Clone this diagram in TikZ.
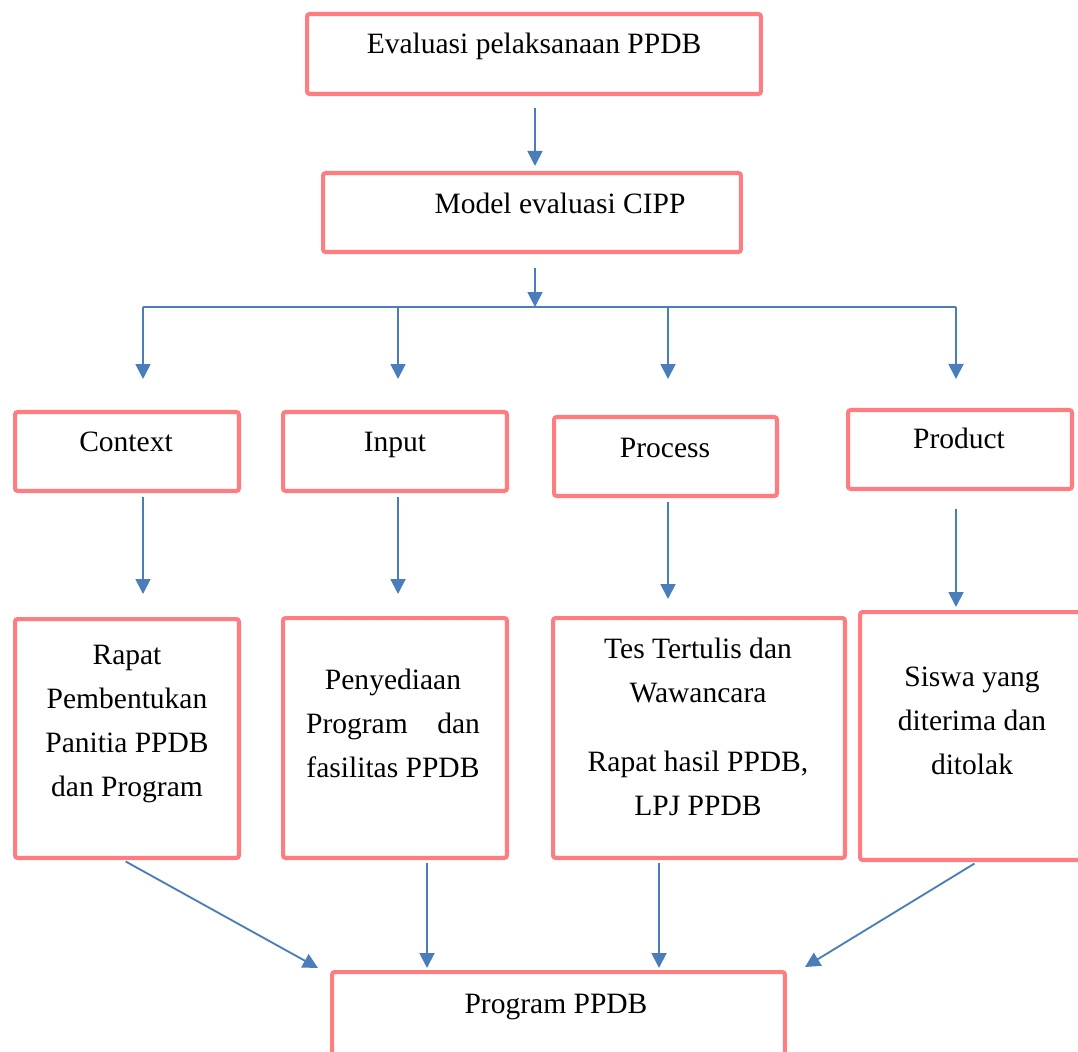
\documentclass[tikz,border=0pt]{standalone}
\usepackage{fontspec}
\setmainfont{Liberation Serif}
\usetikzlibrary{positioning,calc,arrows.meta}
\definecolor{pinkb}{HTML}{FF7C80}
\definecolor{arrblue}{HTML}{4A7EBB}
\tikzset{
  every node/.append style={font=\fontsize{16.8}{25}\selectfont},
  box/.style={draw=pinkb, line width=2.3pt, rounded corners=1.5pt, fill=white, inner sep=0pt},
  wbox/.style={box, minimum width=4.48cm, minimum height=1.58cm},
  tbox/.style={box, minimum width=4.48cm, minimum height=4.78cm},
  lbl/.style={align=center, text=black, inner sep=0pt},
  arr/.style={-{Triangle[length=0.3cm,width=0.3cm]}, line width=1.05pt, draw=arrblue},
  ln/.style={line width=1.05pt, draw=arrblue},
}

\begin{document}
\begin{tikzpicture}[x=0.02cm,y=-0.02cm]
  \useasboundingbox (0,0) rectangle (1078,1051);
  \clip (0,0) rectangle (1078,1051);
  % --- top boxes ---
  \node[box, minimum width=9.08cm, minimum height=1.6cm] (eval) at (534,54){};
  \node[lbl, anchor=base] (evalt) at (534,54){Evaluasi pelaksanaan PPDB};
  \node[box, minimum width=8.36cm, minimum height=1.58cm] (cipp) at (532,212.5){};
  \node[lbl, anchor=base] (cippt) at (560,213){Model evaluasi CIPP};
  % --- CIPP components ---
  \node[wbox] (ctx) at (127,451.5){};
  \node[lbl, anchor=base] (ctxt) at (126,451){Context};
  \node[wbox] (inp) at (395,451.5){};
  \node[lbl, anchor=base] (inpt) at (395,451){Input};
  \node[wbox, minimum width=4.46cm] (proc) at (665.5,456.5){};
  \node[lbl, anchor=base] (proct) at (665,457){Process};
  \node[wbox] (prod) at (960,449.5){};
  \node[lbl, anchor=base] (prodt) at (959,448){Product};
  % --- activities ---
  \node[tbox] (rap) at (127,738.5){};
  \node[lbl] (rapt) at (127,724){Rapat\\Pembentukan\\Panitia PPDB\\dan Program};
  \node[tbox, minimum height=4.8cm] (pen) at (395,738){};
  \node[lbl] (pent) at (393,723){Penyediaan\\Program\quad dan\\fasilitas PPDB};
  \node[tbox, minimum width=5.84cm, minimum height=4.8cm] (tes) at (699,738){};
  \node[lbl] (test) at (698,727){Tes Tertulis dan\\Wawancara\\[14.7pt]Rapat hasil PPDB,\\LPJ PPDB};
  \node[tbox, minimum width=4.56cm, minimum height=4.96cm] (sis) at (974,736){};
  \node[lbl] (sist) at (972,721){Siswa yang\\diterima dan\\ditolak};
  % --- result ---
  \node[box, minimum width=9.06cm, minimum height=1.76cm] (prog) at (558.5,1016){};
  \node[lbl, anchor=base] (progt) at (556,1013){Program PPDB};
  % --- connectors ---
  \coordinate (hub) at (535,307);
  \coordinate (b1) at (143,307);
  \coordinate (b2) at (398,307);
  \coordinate (b3) at (668,307);
  \coordinate (b4) at (956,307);
  \draw[arr, shorten <=0.24cm, shorten >=0.1cm] (eval.south -| hub) -- (hub |- cipp.north);
  \draw[arr, shorten <=0.28cm] (cipp.south -| hub) -- (hub);
  \draw[ln] (b1) -- (b4);
  \foreach \b/\t/\s in {b1/ctx/0.62,b2/inp/0.62,b3/proc/0.72,b4/prod/0.58}{
     \draw[arr, shorten >=\s cm] (\b) -- (\b |- \t.north);}
  \foreach \b/\s/\t/\p/\q in {b1/ctx/rap/0.08/0.46,b2/inp/pen/0.08/0.44,
                             b3/proc/tes/0.08/0.34,b4/prod/sis/0.36/0.06}{
     \draw[arr, shorten <=\p cm, shorten >=\q cm] (\s.south -| \b) -- (\b |- \t.north);}
  \coordinate (in1) at (318,968);
  \coordinate (in2) at (427,968);
  \coordinate (in3) at (659,968);
  \coordinate (in4) at (805,967);
  \draw[arr, shorten <=0.06cm] ([xshift=-0.08cm]rap.south) -- (in1);
  \draw[arr, shorten <=0.06cm] (pen.south -| in2) -- (in2);
  \draw[arr, shorten <=0.06cm] (tes.south -| in3) -- (in3);
  \draw[arr, shorten <=0.06cm] ([xshift=0.06cm]sis.south) -- (in4);
\end{tikzpicture}
\end{document}
